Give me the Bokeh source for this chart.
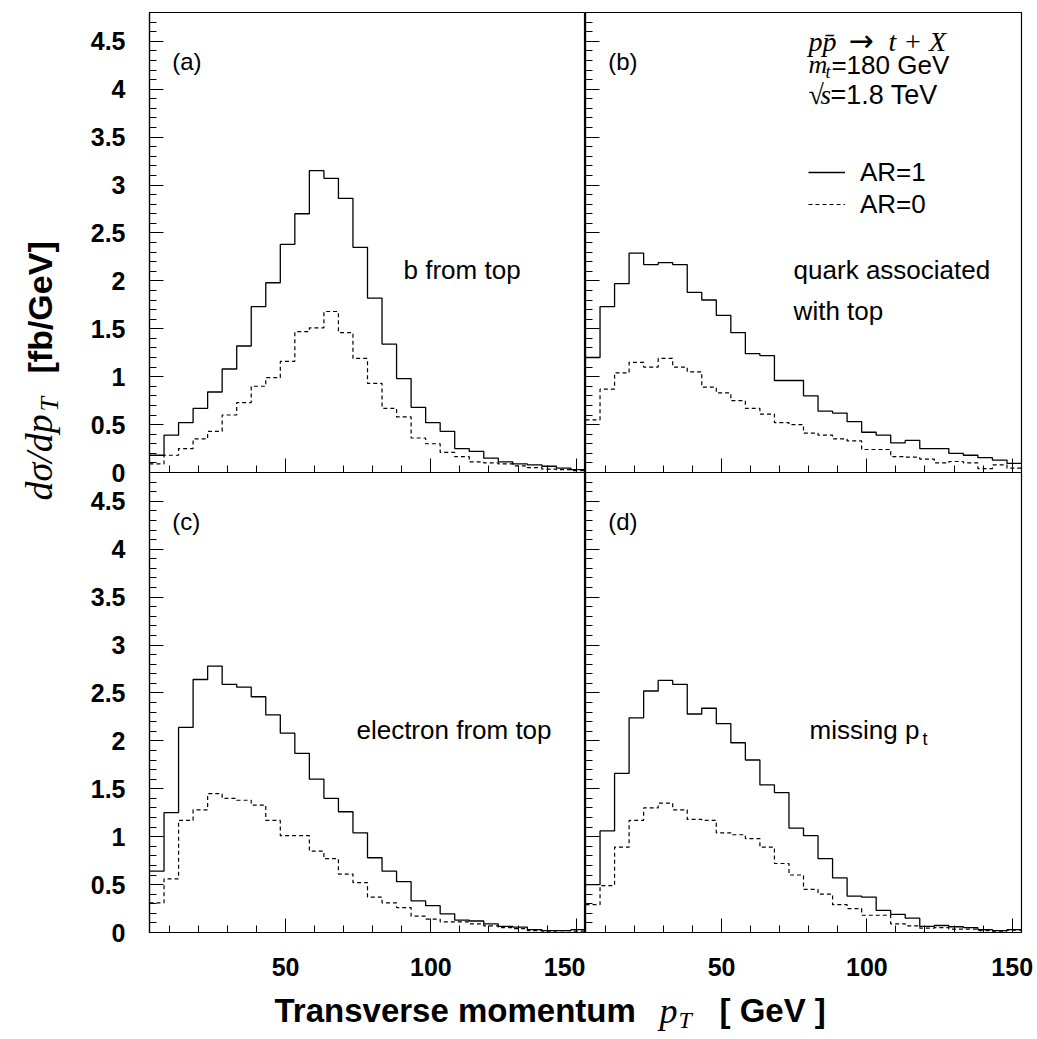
import math
from bokeh.plotting import figure
from bokeh.models import (Range1d, SingleIntervalTicker, CustomJSTickFormatter,
                          Label, Legend, LegendItem)
from bokeh.layouts import row, column
from bokeh.embed import file_html
from bokeh.resources import INLINE

# ---------------- data ----------------
bin_edges = [3.2, 8.2, 13.2, 18.2, 23.2, 28.2, 33.2, 38.2, 43.2, 48.2, 53.2,
             58.2, 63.2, 68.2, 73.2, 78.2, 83.2, 88.2, 93.2, 98.2, 103.2,
             108.2, 113.2, 118.2, 123.2, 128.2, 133.2, 138.2, 143.2, 148.2, 153.2]

a_ar1 = [0.18, 0.39, 0.52, 0.67, 0.84, 1.08, 1.32, 1.73, 1.98, 2.38, 2.70, 3.15, 3.07, 2.86, 2.35,
         1.82, 1.34, 0.98, 0.68, 0.52, 0.43, 0.25, 0.22, 0.15, 0.11, 0.09, 0.08, 0.065, 0.045, 0.03]
a_ar0 = [0.09, 0.18, 0.25, 0.35, 0.43, 0.60, 0.73, 0.90, 0.99, 1.16, 1.47, 1.51, 1.68, 1.46, 1.19,
         0.93, 0.67, 0.58, 0.36, 0.30, 0.21, 0.165, 0.11, 0.10, 0.09, 0.07, 0.05, 0.035, 0.03, 0.02]
b_ar1 = [1.20, 1.73, 1.97, 2.29, 2.17, 2.19, 2.17, 1.88, 1.80, 1.64, 1.46, 1.24, 1.22, 0.96, 0.96,
         0.80, 0.64, 0.62, 0.53, 0.42, 0.39, 0.31, 0.335, 0.25, 0.25, 0.20, 0.18, 0.155, 0.13, 0.095]
b_ar0 = [0.55, 0.87, 1.04, 1.15, 1.10, 1.19, 1.10, 1.05, 0.89, 0.83, 0.75, 0.67, 0.61, 0.52, 0.50,
         0.41, 0.39, 0.35, 0.33, 0.24, 0.24, 0.165, 0.16, 0.14, 0.10, 0.115, 0.10, 0.04, 0.08, 0.045]
c_ar1 = [0.64, 1.25, 2.14, 2.64, 2.78, 2.59, 2.56, 2.46, 2.27, 2.08, 1.87, 1.60, 1.40, 1.26, 1.04,
         0.78, 0.64, 0.53, 0.33, 0.28, 0.195, 0.13, 0.12, 0.09, 0.063, 0.056, 0.03, 0.02, 0.02, 0.03]
c_ar0 = [0.31, 0.56, 1.17, 1.28, 1.45, 1.40, 1.38, 1.33, 1.17, 1.01, 1.01, 0.85, 0.77, 0.61, 0.52,
         0.37, 0.31, 0.26, 0.17, 0.14, 0.11, 0.11, 0.09, 0.07, 0.05, 0.04, 0.02, 0.015, 0.02, 0.015]
d_ar1 = [0.50, 1.06, 1.66, 2.24, 2.52, 2.63, 2.59, 2.28, 2.34, 2.18, 1.98, 1.80, 1.54, 1.46, 1.09,
         1.01, 0.77, 0.57, 0.38, 0.37, 0.23, 0.19, 0.15, 0.063, 0.073, 0.06, 0.05, 0.03, 0.02, 0.03]
d_ar0 = [0.29, 0.49, 0.89, 1.17, 1.30, 1.35, 1.28, 1.18, 1.17, 1.04, 1.02, 0.98, 0.89, 0.72, 0.60,
         0.45, 0.40, 0.29, 0.25, 0.18, 0.18, 0.09, 0.07, 0.045, 0.05, 0.035, 0.035, 0.02, 0.015, 0.025]

panel_tags = ["(a)", "(b)", "(c)", "(d)"]
series_labels = ["AR=1", "AR=0"]

# ---------------- style ----------------
X0, X1 = 3.2, 153.2
Y0, Y1 = 0.0, 4.8
FW, FH = 436, 460
OVER = 14          # top-row canvas overhang (lets the top "0" label show fully)
SANS = "Liberation Sans"
SERIF = "Liberation Serif"

num_fmt = CustomJSTickFormatter(code="return String(Math.round(tick*10)/10);")
blank_fmt = CustomJSTickFormatter(code="return '';")


def panel(ar1, ar0, left, right, top, bottom, xlabels, ylabels, transparent=False):
    p = figure(frame_width=FW, frame_height=FH, x_range=Range1d(X0, X1),
               y_range=Range1d(Y0, Y1), output_backend="svg", toolbar_location=None,
               min_border_left=left, min_border_right=right,
               min_border_top=top, min_border_bottom=bottom)
    p.grid.visible = False
    p.outline_line_color = "black"
    p.outline_line_width = 1.2
    p.background_fill_color = "white"
    if transparent:
        p.border_fill_alpha = 0.0
    else:
        p.border_fill_color = "white"
    xa, ya = p.xaxis[0], p.yaxis[0]
    xa.ticker = SingleIntervalTicker(interval=50, num_minor_ticks=5)
    ya.ticker = SingleIntervalTicker(interval=0.5, num_minor_ticks=5)
    for ax in (xa, ya):
        ax.major_tick_in = 14
        ax.major_tick_out = 0
        ax.minor_tick_in = 7
        ax.minor_tick_out = 0
        ax.axis_line_color = "black"
        ax.axis_line_width = 1.2
        ax.major_tick_line_color = "black"
        ax.minor_tick_line_color = "black"
        ax.major_label_text_font = SANS
        ax.major_label_text_font_style = "bold"
        ax.major_label_text_font_size = "25px"
        ax.major_label_text_color = "black"
    if xlabels:
        xa.formatter = num_fmt
        xa.major_label_standoff = 25
    else:
        xa.formatter = blank_fmt
        xa.major_label_standoff = 0
        xa.major_label_text_font_size = "0px"
    if ylabels:
        ya.formatter = num_fmt
        ya.major_label_standoff = 24
    else:
        ya.formatter = blank_fmt
        ya.major_label_standoff = 0
        ya.major_label_text_font_size = "0px"
    r1 = p.step(x=bin_edges, y=ar1 + [ar1[-1]], mode="after",
                line_color="black", line_width=1.3)
    r0 = p.step(x=bin_edges, y=ar0 + [ar0[-1]], mode="after",
                line_color="black", line_width=1.2, line_dash="4 3")
    return p, r1, r0


def lab(p, x, y, text, size="26px", font=SANS, style="normal", xo=0, yo=0,
        angle=0.0):
    p.add_layout(Label(x=x, y=y, text=text, x_offset=xo, y_offset=yo, angle=angle,
                       text_font=font, text_font_style=style,
                       text_font_size=size, text_color="black",
                       text_baseline="middle", text_align="left"))


pa, a1, a0 = panel(a_ar1, a_ar0, 83, 0, 12, OVER, False, True)
pb, b1, b0 = panel(b_ar1, b_ar0, 0, 14, 12, OVER, False, False)
pc, c1, c0 = panel(c_ar1, c_ar0, 83, 0, 0, 54, True, True, transparent=True)
pd, d1, d0 = panel(d_ar1, d_ar0, 0, 14, 0, 54, True, False, transparent=True)

# panel tags
for p, tag in zip((pa, pb, pc, pd), panel_tags):
    lab(p, 11.0, 4.29, tag, size="24px")

# panel descriptions
lab(pa, 90.6, 2.11, "b from top")
lab(pb, 74.8, 2.11, "quark associated")
lab(pb, 74.8, 1.69, "with top")
lab(pc, 74.4, 2.11, "electron from top")
lab(pd, 80.3, 2.11, "missing p")
lab(pd, 80.3, 2.11, "t", size="18px", xo=113, yo=-9)

# process info (panel b)
lab(pb, 79.9, 4.50, "pp\u0304", size="28px", font=SERIF, style="italic")
lab(pb, 79.9, 4.50, "\u2192", size="30px", font="DejaVu Sans", xo=40, yo=1)
lab(pb, 79.9, 4.50, "t + X", size="28px", font=SERIF, style="italic", xo=80)
lab(pb, 79.9, 4.257, "m", size="26px", font=SERIF, style="italic")
lab(pb, 79.9, 4.257, "t", size="18px", font=SERIF, style="italic", xo=17, yo=-7)
lab(pb, 79.9, 4.257, "=180 GeV", size="26px", xo=23)
lab(pb, 79.9, 3.94, "\u221a", size="28px", font=SERIF)
lab(pb, 79.9, 3.94, "s", size="27px", font=SERIF, style="italic", xo=12)
lab(pb, 79.9, 3.94, "=1.8 TeV", size="27px", xo=22)

legend = Legend(items=[LegendItem(label=series_labels[0], renderers=[b1]),
                       LegendItem(label=series_labels[1], renderers=[b0])],
                location=(223, 266 - OVER), orientation="vertical",
                glyph_width=37, glyph_height=32, label_height=32, spacing=0,
                label_standoff=15, padding=0, margin=0,
                border_line_color=None, background_fill_alpha=0,
                label_text_font=SANS, label_text_font_size="26px",
                label_text_color="black", label_text_baseline="middle")
pb.add_layout(legend)

# y-axis title figure (data units = pixels from the bottom-left)
YT_W, YT_H = 66, 1038
yt = figure(width=YT_W, height=YT_H, x_range=Range1d(0, YT_W), y_range=Range1d(0, YT_H),
            x_axis_type=None, y_axis_type=None, output_backend="svg",
            toolbar_location=None, min_border=0)
yt.grid.visible = False
yt.outline_line_color = None
A = math.pi / 2
lab(yt, 38, YT_H - 500, "d\u03c3/dp", size="38px", font=SERIF, style="italic", angle=A)
lab(yt, 49, YT_H - 411, "T", size="26px", font=SERIF, style="italic", angle=A)
lab(yt, 39, YT_H - 373, "[fb/GeV]", size="34px", style="bold", angle=A)

# x-axis title figure
XT_W, XT_H = 969, 52
xt = figure(width=XT_W, height=XT_H, x_range=Range1d(0, XT_W), y_range=Range1d(0, XT_H),
            x_axis_type=None, y_axis_type=None, output_backend="svg",
            toolbar_location=None, min_border=0)
xt.grid.visible = False
xt.outline_line_color = None
lab(xt, 208, 28, "Transverse momentum", size="33px", style="bold")
lab(xt, 593, 28, "p", size="36px", font=SERIF, style="italic")
lab(xt, 612, 19, "T", size="24px", font=SERIF, style="italic")
lab(xt, 653, 28, "[ GeV ]", size="33px", style="bold")

top_row = row(pa, pb)
bottom_row = row(pc, pd, styles={"margin-top": f"-{OVER}px"})
layout = row(yt, column(top_row, bottom_row, xt))

open("out.html", "w").write(file_html(layout, INLINE))
